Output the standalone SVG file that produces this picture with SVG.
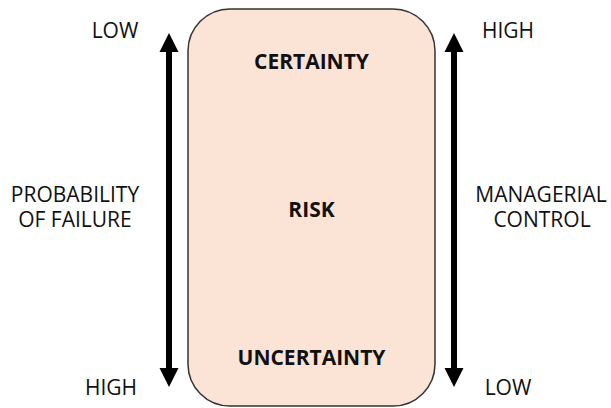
<svg xmlns="http://www.w3.org/2000/svg" width="611" height="408" viewBox="0 0 611 408">
  <style>
    .lbl { font-family: "Open Sans", "Liberation Sans", sans-serif; font-size: 21px; fill: #111; text-anchor: middle; }
    .bold { font-weight: bold; }
    .shaft { stroke: #000; stroke-width: 6; }
    .head { fill: #000; }
  </style>
  <rect width="611" height="408" fill="#fff"/>

  <g id="box">
    <rect x="188" y="9" width="247" height="397" rx="42" ry="42" fill="#FBE3D6" stroke="#333" stroke-width="1.5"/>
    <text class="lbl bold" x="311.5" y="69">CERTAINTY</text>
    <text class="lbl bold" x="311.5" y="217">RISK</text>
    <text class="lbl bold" x="311.5" y="365">UNCERTAINTY</text>
  </g>

  <g id="connectors">
    <g id="left-arrow">
      <line class="shaft" x1="169" y1="50" x2="169" y2="370"/>
      <polygon class="head" points="169,33 159.5,52 178.5,52"/>
      <polygon class="head" points="169,387 159.5,368 178.5,368"/>
    </g>
    <g id="right-arrow">
      <line class="shaft" x1="454" y1="50" x2="454" y2="370"/>
      <polygon class="head" points="454,33 444.5,52 463.5,52"/>
      <polygon class="head" points="454,387 444.5,368 463.5,368"/>
    </g>
  </g>

  <g id="left-labels">
    <text class="lbl" x="115" y="37.5">LOW</text>
    <text class="lbl" x="75" y="202">PROBABILITY</text>
    <text class="lbl" x="75" y="227">OF FAILURE</text>
    <text class="lbl" x="111" y="395">HIGH</text>
  </g>

  <g id="right-labels">
    <text class="lbl" x="508" y="37.5">HIGH</text>
    <text class="lbl" x="541" y="202">MANAGERIAL</text>
    <text class="lbl" x="542" y="227">CONTROL</text>
    <text class="lbl" x="508" y="395">LOW</text>
  </g>
</svg>
